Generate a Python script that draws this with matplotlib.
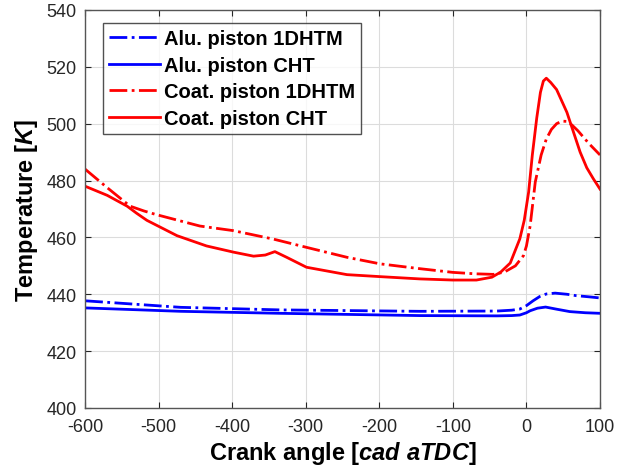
import matplotlib
matplotlib.use("Agg")
import matplotlib.pyplot as plt

plt.rcParams['font.family'] = ['Liberation Sans', 'DejaVu Sans']
plt.rcParams['mathtext.fontset'] = 'custom'
plt.rcParams['mathtext.rm'] = 'Liberation Sans:bold'
plt.rcParams['mathtext.it'] = 'Liberation Sans:italic:bold'
plt.rcParams['mathtext.bf'] = 'Liberation Sans:bold'
plt.rcParams['axes.unicode_minus'] = False

# Data
alu_1d_x = [-600, -470, -335, -145, -40, -20, -9, 0, 9, 18, 27, 39, 55, 68, 85, 100]
alu_1d_y = [437.7, 435.4, 434.5, 434.0, 434.1, 434.4, 434.8, 436.0, 437.7, 439.2, 440.1, 440.4, 440.0, 439.5, 439.1, 438.7]

alu_cht_x = [-600, -470, -335, -145, -40, -20, -9, 0, 5, 15, 26, 40, 59, 80, 100]
alu_cht_y = [435.2, 434.0, 433.3, 432.5, 432.4, 432.5, 432.7, 433.5, 434.2, 435.1, 435.5, 434.8, 433.9, 433.5, 433.3]

coat_1d_x = [-600, -570, -539, -520, -503, -444, -399, -344, -299, -244, -199, -145, -100, -70, -45,
             -30, -15, -4, 0, 5, 12, 20, 27, 34, 41, 48, 55, 62, 70, 85, 100]
coat_1d_y = [484.0, 477.5, 471.0, 469.3, 468.0, 464.0, 462.4, 459.4, 456.5, 453.0, 450.7, 449.0, 447.7, 447.2, 447.0,
             447.8, 450.0, 453.6, 457.0, 464.0, 479.5, 489.0, 494.6, 498.0, 500.0, 500.9, 500.8, 499.5, 497.5, 493.0, 489.0]

coat_cht_x = [-600, -570, -543, -530, -516, -475, -435, -398, -371, -355, -342, -326, -299, -244,
              -199, -145, -100, -68, -47, -35, -22, -9, -3, 3, 8, 14, 19, 23, 27, 33, 41, 48, 55, 64, 73, 82, 91, 100]
coat_cht_y = [478.0, 474.8, 471.0, 468.5, 466.0, 460.6, 457.0, 454.8, 453.4, 453.8, 455.0, 453.0, 449.5, 446.9,
              446.2, 445.4, 445.0, 445.0, 446.0, 447.8, 451.0, 459.5, 466.0, 476.0, 489.0, 502.0, 511.0, 515.0, 516.0, 514.5, 512.0, 508.0, 504.0, 497.0, 490.0, 484.5, 480.6, 477.0]

x_ticks = [-600, -500, -400, -300, -200, -100, 0, 100]
y_ticks = [400, 420, 440, 460, 480, 500, 520, 540]

fig = plt.figure(figsize=(6.40, 4.77), dpi=100)
ax = fig.add_axes([0.133, 0.1426, 0.8045, 0.8344])

lw = 2.0
ax.plot(alu_1d_x, alu_1d_y, color='#0000ff', lw=lw, ls='-.', label='Alu. piston 1DHTM')
ax.plot(alu_cht_x, alu_cht_y, color='#0000ff', lw=lw, ls='-', label='Alu. piston CHT')
ax.plot(coat_1d_x, coat_1d_y, color='#ff0000', lw=lw, ls='-.', label='Coat. piston 1DHTM')
ax.plot(coat_cht_x, coat_cht_y, color='#ff0000', lw=lw, ls='-', label='Coat. piston CHT')

ax.set_xlim(-600, 100)
ax.set_ylim(400, 540)
ax.set_xticks(x_ticks)
ax.set_yticks(y_ticks)
ax.tick_params(direction='in', top=True, right=True, labelsize=13, colors='#262626', length=4)
ax.tick_params(axis='x', pad=7)
ax.tick_params(axis='y', pad=6)
ax.grid(True, color='#dcdcdc', lw=0.8)
ax.set_axisbelow(True)
for s in ax.spines.values():
    s.set_color('#555555')
    s.set_linewidth(1.0)

ax.set_xlabel('Crank angle [$cad\\ aTDC$]', fontsize=17, fontweight='bold', labelpad=3)
ax.set_ylabel('Temperature [$K$]', fontsize=17, fontweight='bold', labelpad=5)

leg = ax.legend(loc='upper left', bbox_to_anchor=(0.035, 0.967), prop={'weight': 'bold', 'size': 14.5},
                frameon=True, fancybox=False, edgecolor='#262626', handlelength=2.5,
                handletextpad=0.2, borderpad=0.3, labelspacing=0.38, borderaxespad=0.0)
leg.get_frame().set_linewidth(1.0)

fig.savefig('out.png', dpi=100)
